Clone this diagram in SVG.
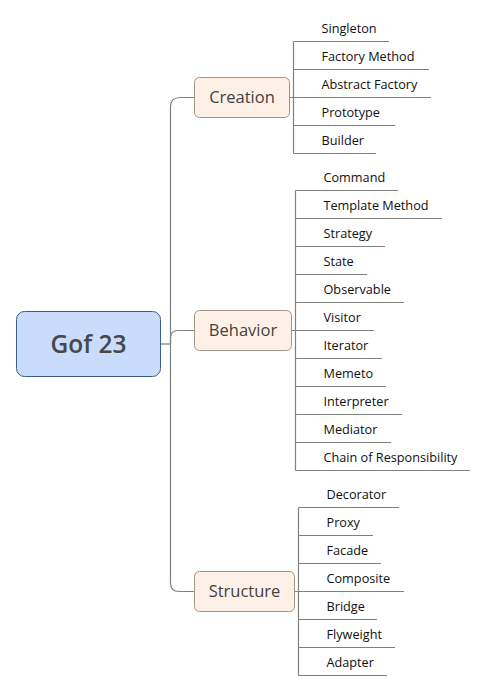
<svg xmlns="http://www.w3.org/2000/svg" width="486" height="691" viewBox="0 0 486 691">
<defs>
<style>
.bg{fill:#ffffff}
.conn{fill:none;stroke:#808080;stroke-width:1.2}
.root rect{fill:#c9dcfb;stroke:#3f5c8c;stroke-width:1}
.root text{font-family:"Open Sans","Noto Sans","DejaVu Sans",sans-serif;font-size:24.5px;font-weight:600;fill:#484848;text-anchor:middle}
.main rect{fill:#fdf1e7;stroke:#a39585;stroke-width:1}
.main text{font-family:"Open Sans","Noto Sans","DejaVu Sans",sans-serif;font-size:16.5px;fill:#424242;text-anchor:middle}
.leaf text{font-family:"Open Sans","Noto Sans","DejaVu Sans",sans-serif;font-size:12.7px;fill:#111111}
.leaf line{stroke:#808080;stroke-width:1}
</style>
</defs>
<rect class="bg" x="0" y="0" width="486" height="691"/>
<g id="connectors">
<path class="conn" d="M160.5,344 H170.5"/>
<path class="conn" d="M170.5,344 V107 Q170.5,97.5 180,97.5 H194.5"/>
<path class="conn" d="M170.5,344 V338 Q170.5,330.5 178,330.5 H194.5"/>
<path class="conn" d="M170.5,344 V583 Q170.5,591.5 179,591.5 H194.5"/>
<path class="conn" d="M289.5,97.5 H293.5 M293.5,41.5 V153.5"/>
<path class="conn" d="M291.5,330.5 H295.5 M295.5,190.5 V470.5"/>
<path class="conn" d="M294.5,591.5 H298.5 M298.5,507.5 V675.5"/>
</g>
<g id="root" class="root"><rect x="16.5" y="311.5" width="144" height="65" rx="8"/><text x="88.5" y="353">Gof 23</text></g>
<g id="creation" class="main"><rect x="194.5" y="77.5" width="95" height="40" rx="5"/><text x="242" y="103">Creation</text></g>
<g id="behavior" class="main"><rect x="194.5" y="310.5" width="97" height="40" rx="5"/><text x="243" y="336">Behavior</text></g>
<g id="structure" class="main"><rect x="194.5" y="571.5" width="100" height="40" rx="5"/><text x="244.5" y="597">Structure</text></g>
<g id="singleton" class="leaf"><line x1="293.5" y1="41.5" x2="389" y2="41.5"/><text x="321.5" y="33">Singleton</text></g>
<g id="factory-method" class="leaf"><line x1="293.5" y1="69.5" x2="429" y2="69.5"/><text x="321.5" y="61">Factory Method</text></g>
<g id="abstract-factory" class="leaf"><line x1="293.5" y1="97.5" x2="431" y2="97.5"/><text x="321.5" y="89">Abstract Factory</text></g>
<g id="prototype" class="leaf"><line x1="293.5" y1="125.5" x2="395" y2="125.5"/><text x="321.5" y="117">Prototype</text></g>
<g id="builder" class="leaf"><line x1="293.5" y1="153.5" x2="376" y2="153.5"/><text x="321.5" y="145">Builder</text></g>
<g id="command" class="leaf"><line x1="295.5" y1="190.5" x2="398" y2="190.5"/><text x="323.5" y="182">Command</text></g>
<g id="template-method" class="leaf"><line x1="295.5" y1="218.5" x2="442" y2="218.5"/><text x="323.5" y="210">Template Method</text></g>
<g id="strategy" class="leaf"><line x1="295.5" y1="246.5" x2="385" y2="246.5"/><text x="323.5" y="238">Strategy</text></g>
<g id="state" class="leaf"><line x1="295.5" y1="274.5" x2="367" y2="274.5"/><text x="323.5" y="266">State</text></g>
<g id="observable" class="leaf"><line x1="295.5" y1="302.5" x2="404" y2="302.5"/><text x="323.5" y="294">Observable</text></g>
<g id="visitor" class="leaf"><line x1="295.5" y1="330.5" x2="374" y2="330.5"/><text x="323.5" y="322">Visitor</text></g>
<g id="iterator" class="leaf"><line x1="295.5" y1="358.5" x2="382" y2="358.5"/><text x="323.5" y="350">Iterator</text></g>
<g id="memeto" class="leaf"><line x1="295.5" y1="386.5" x2="386" y2="386.5"/><text x="323.5" y="378">Memeto</text></g>
<g id="interpreter" class="leaf"><line x1="295.5" y1="414.5" x2="402" y2="414.5"/><text x="323.5" y="406">Interpreter</text></g>
<g id="mediator" class="leaf"><line x1="295.5" y1="442.5" x2="391" y2="442.5"/><text x="323.5" y="434">Mediator</text></g>
<g id="chain-of-responsibility" class="leaf"><line x1="295.5" y1="470.5" x2="470" y2="470.5"/><text x="323.5" y="462">Chain of Responsibility</text></g>
<g id="decorator" class="leaf"><line x1="298.5" y1="507.5" x2="399" y2="507.5"/><text x="326.5" y="499">Decorator</text></g>
<g id="proxy" class="leaf"><line x1="298.5" y1="535.5" x2="373" y2="535.5"/><text x="326.5" y="527">Proxy</text></g>
<g id="facade" class="leaf"><line x1="298.5" y1="563.5" x2="381" y2="563.5"/><text x="326.5" y="555">Facade</text></g>
<g id="composite" class="leaf"><line x1="298.5" y1="591.5" x2="404" y2="591.5"/><text x="326.5" y="583">Composite</text></g>
<g id="bridge" class="leaf"><line x1="298.5" y1="619.5" x2="377" y2="619.5"/><text x="326.5" y="611">Bridge</text></g>
<g id="flyweight" class="leaf"><line x1="298.5" y1="647.5" x2="395" y2="647.5"/><text x="326.5" y="639">Flyweight</text></g>
<g id="adapter" class="leaf"><line x1="298.5" y1="675.5" x2="387" y2="675.5"/><text x="326.5" y="667">Adapter</text></g>
</svg>
